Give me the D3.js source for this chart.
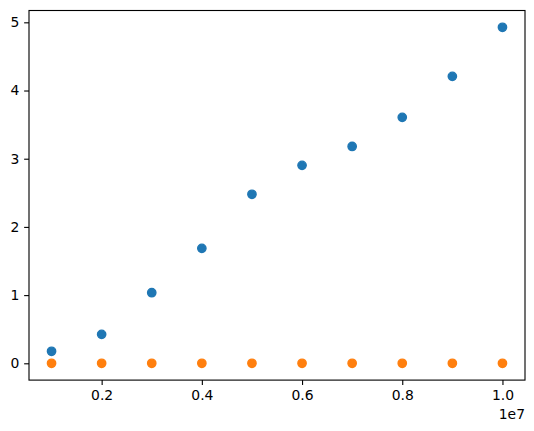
<!DOCTYPE html>
<html><head><meta charset="utf-8">
<script src="https://cdn.jsdelivr.net/npm/d3@7"></script>
<style>body{margin:0;background:#fff}svg{display:block}</style>
</head><body>
<script>
const xValues = [1e6, 2e6, 3e6, 4e6, 5e6, 6e6, 7e6, 8e6, 9e6, 1e7];
const seriesA = [0.176, 0.425, 1.035, 1.686, 2.478, 2.903, 3.18, 3.607, 4.208, 4.927];
const seriesB = [0, 0, 0, 0, 0, 0, 0, 0, 0, 0];
const xTicks = [2e6, 4e6, 6e6, 8e6, 1e7];
const xTickLabels = ["0.2", "0.4", "0.6", "0.8", "1.0"];
const yTicks = [0, 1, 2, 3, 4, 5];
const offsetLabel = "1e7";
const colors = ["#1f77b4", "#ff7f0e"];

(function () {
const W = 534, H = 431;
const pL = 29, pR = 525, pT = 10.5, pB = 380.1;
const svg = d3.select("body").append("svg").attr("width", W).attr("height", H);

const xMin = d3.min(xValues), xMax = d3.max(xValues);
const allY = seriesA.concat(seriesB);
const yMin = d3.min(allY), yMax = d3.max(allY);
const xm = (xMax - xMin) * 0.05, ym = (yMax - yMin) * 0.05;
const x = d3.scaleLinear().domain([xMin - xm, xMax + xm]).range([pL, pR]);
const y = d3.scaleLinear().domain([yMin - ym, yMax + ym]).range([pB, pT]);

const font = "DejaVu Sans, sans-serif";
const fs = 13.9;

[seriesA, seriesB].forEach((s, i) => {
  svg.append("g").selectAll("circle").data(s).join("circle")
    .attr("cx", (d, j) => x(xValues[j]))
    .attr("cy", d => y(d))
    .attr("r", 4.17)
    .attr("fill", colors[i])
    .attr("stroke", colors[i])
    .attr("stroke-width", 1.39);
});

const xAxis = d3.axisBottom(x).tickValues(xTicks).tickFormat((d, i) => xTickLabels[i])
  .tickSizeInner(4.86).tickSizeOuter(0).tickPadding(4.86);
const gx = svg.append("g").attr("transform", `translate(0,${pB})`).call(xAxis);
const yAxis = d3.axisLeft(y).tickValues(yTicks).tickFormat(d3.format("d"))
  .tickSizeInner(4.86).tickSizeOuter(0).tickPadding(4.86);
const gy = svg.append("g").attr("transform", `translate(${pL},0)`).call(yAxis);
[gx, gy].forEach(g => {
  g.select(".domain").remove();
  g.selectAll(".tick line").attr("stroke", "#000").attr("stroke-width", 1.11);
  g.selectAll(".tick text").attr("fill", "#000").style("font-family", font).style("font-size", fs + "px");
});

svg.append("rect").attr("x", pL).attr("y", pT).attr("width", pR - pL).attr("height", pB - pT)
  .attr("fill", "none").attr("stroke", "#000").attr("stroke-width", 1.11);

svg.append("text").attr("x", pR).attr("y", 418.5).attr("text-anchor", "end")
  .style("font-family", font).style("font-size", fs + "px").attr("fill", "#000").text(offsetLabel);
})();
</script>
</body></html>
